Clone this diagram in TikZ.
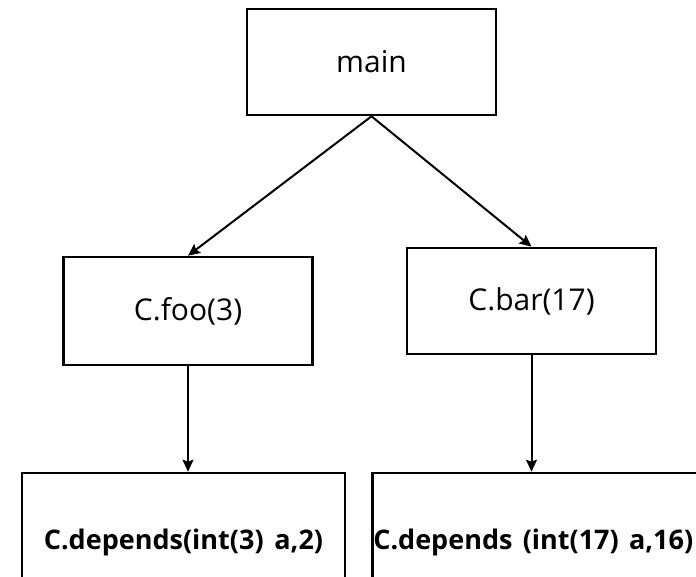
\documentclass[tikz,border=0pt]{standalone}
\usepackage{fontspec}
\setmainfont{Open Sans}
\usetikzlibrary{arrows.meta, positioning}

\begin{document}
\begin{tikzpicture}[x=1pt, y=-1pt,
    box/.style={draw=black, line width=2.6pt, minimum width=249pt, minimum height=106pt, inner sep=0pt, font=\fontsize{30}{36}\selectfont, anchor=center},
    callbox/.style={draw=black, line width=2.6pt, minimum height=138pt, inner sep=0pt, font=\fontsize{27}{32}\selectfont\bfseries},
    call/.style={-{Stealth[length=12pt, width=11pt, inset=2pt]}, line width=2pt}
]
\useasboundingbox (0,0) rectangle (696,577);
\clip (0,0) rectangle (696,577);

% Top
\node[box] (main) at (371.5, 62) {main};

% Middle
\node[box, minimum height=108pt] (foo) at (188, 311) {C.foo(3)};
\node[box] (bar) at (531.5, 301) {C.bar(17)};

% Bottom (boxes run past the lower edge)
\node[callbox, minimum width=323pt] (dep3) at (183.5, 542) {C.depends(int(3)\hspace{0.4em}a,2)};
\node[callbox, anchor=west, text width=330pt, align=left, inner xsep=1pt] (dep17) at (371, 542) {C.depends\hspace{0.38em}(int(17)\hspace{0.38em}a,16)};

% Calls
\draw[call] (main.south) -- (foo.north);
\draw[call] (main.south) -- (bar.north);
\draw[call] (foo.south) -- (foo.south |- dep3.north);
\draw[call] (bar.south) -- (bar.south |- dep17.north);

\end{tikzpicture}
\end{document}
